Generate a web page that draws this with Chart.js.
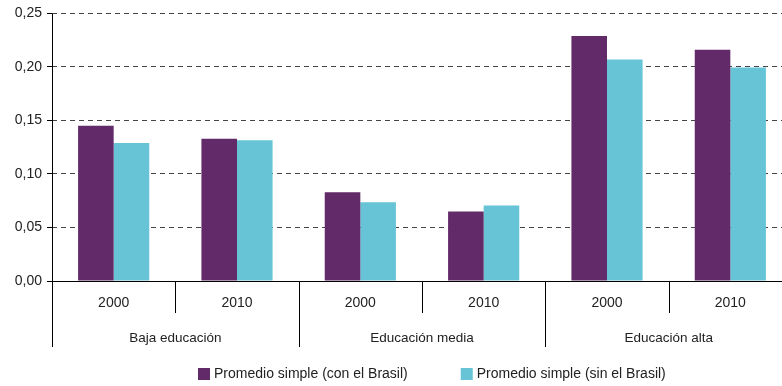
<!DOCTYPE html>
<html>
<head>
<meta charset="utf-8">
<script src="https://cdn.jsdelivr.net/npm/chart.js@4.4.0/dist/chart.umd.min.js"></script>
<style>
  html, body { margin: 0; padding: 0; background: #fff; overflow: hidden; }
  #wrap { width: 782px; height: 386px; overflow: hidden; position: relative; }
  #box { width: 792px; height: 386px; position: absolute; left: 0; top: 0; }
</style>
</head>
<body>
<div id="wrap"><div id="box"><canvas id="c"></canvas></div></div>
<script>
const years = ["2000", "2010", "2000", "2010", "2000", "2010"];
const groups = ["Baja educación", "Educación media", "Educación alta"];
const conBrasil = [0.145, 0.133, 0.083, 0.065, 0.229, 0.216];
const sinBrasil = [0.129, 0.1315, 0.0735, 0.0705, 0.207, 0.1995];
const seriesNames = ["Promedio simple (con el Brasil)", "Promedio simple (sin el Brasil)"];
const yTicks = [0, 0.05, 0.10, 0.15, 0.20, 0.25];

const FONT = '"Liberation Sans", Arial, sans-serif';
const PURPLE = '#622a68';
const CYAN = '#66c4d6';

const groupAxisPlugin = {
  id: 'groupAxis',
  afterDraw(chart) {
    const ctx = chart.ctx;
    const x = chart.scales.x;
    const area = chart.chartArea;
    const n = years.length;
    const step = (x.right - x.left) / n;
    ctx.save();
    ctx.setLineDash([]);
    ctx.strokeStyle = '#000';
    ctx.lineWidth = 1;
    // y axis line (solid), extended down through label area
    const ax = Math.round(area.left) + 0.5;
    ctx.beginPath();
    ctx.moveTo(ax, area.top);
    ctx.lineTo(ax, area.bottom + 66);
    ctx.stroke();
    // baseline
    ctx.beginPath();
    ctx.moveTo(area.left, Math.round(area.bottom) + 0.5);
    ctx.lineTo(area.right, Math.round(area.bottom) + 0.5);
    ctx.stroke();
    // separators
    for (let i = 1; i <= n; i++) {
      const px = Math.round(x.left + i * step) + 0.5;
      const isGroup = i % 2 === 0;
      ctx.beginPath();
      ctx.moveTo(px, area.bottom);
      ctx.lineTo(px, isGroup ? area.bottom + 66 : area.bottom + 32);
      ctx.stroke();
    }
    // group labels
    ctx.fillStyle = '#222';
    ctx.font = '13.5px ' + FONT;
    ctx.textAlign = 'center';
    ctx.textBaseline = 'middle';
    groups.forEach((g, gi) => {
      const cx = (x.getPixelForValue(gi * 2) + x.getPixelForValue(gi * 2 + 1)) / 2;
      ctx.fillText(g, cx, area.bottom + 57);
    });
    // legend
    ctx.font = '14px ' + FONT;
    ctx.textAlign = 'left';
    let lx = 198;
    const ly = 368;
    chart.data.datasets.forEach((ds) => {
      ctx.fillStyle = ds.backgroundColor;
      ctx.fillRect(lx, ly, 12, 12);
      ctx.fillStyle = '#222';
      ctx.fillText(ds.label, lx + 16, ly + 6.5);
      lx += 16 + ctx.measureText(ds.label).width + 53;
    });
    ctx.restore();
  }
};

new Chart(document.getElementById('c'), {
  type: 'bar',
  data: {
    labels: years,
    datasets: [
      { label: seriesNames[0], data: conBrasil, backgroundColor: PURPLE },
      { label: seriesNames[1], data: sinBrasil, backgroundColor: CYAN }
    ]
  },
  options: {
    responsive: true,
    maintainAspectRatio: false,
    animation: false,
    layout: { padding: { top: 13, left: 0, right: 0, bottom: 0 } },
    datasets: { bar: { categoryPercentage: 0.577, barPercentage: 1.0 } },
    plugins: { legend: { display: false }, tooltip: { enabled: false } },
    scales: {
      x: {
        grid: { display: false, drawTicks: false },
        border: { display: false },
        ticks: { color: '#222', font: { family: FONT, size: 14 }, padding: 14, maxRotation: 0 },
        afterFit(scale) { scale.height = 105; }
      },
      y: {
        min: 0, max: 0.25,
        afterBuildTicks(scale) { scale.ticks = yTicks.map(v => ({ value: v })); },
        grid: { color: '#444', tickLength: 5, tickBorderDash: [0, 0], tickColor: '#000', lineWidth: 1 },
        border: { display: false, dash: [5, 4] },
        ticks: {
          color: '#222', font: { family: FONT, size: 14 }, padding: 5,
          callback: (v) => Number(v).toFixed(2).replace('.', ',')
        },
        afterFit(scale) { scale.width = 52; }
      }
    }
  },
  plugins: [groupAxisPlugin]
});
</script>
</body>
</html>
